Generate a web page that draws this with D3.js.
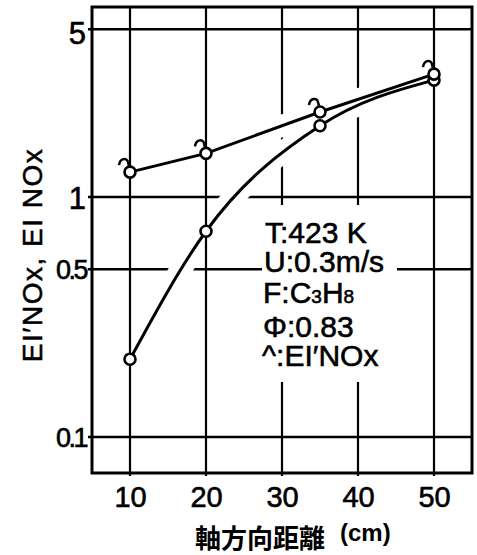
<!DOCTYPE html>
<html>
<head>
<meta charset="utf-8">
<script src="https://cdn.jsdelivr.net/npm/d3@7"></script>
<style>
  body { margin: 0; background: #fff; }
  svg { display: block; }
</style>
</head>
<body>
<div id="chart"></div>
<script>
// values
const distance = [10, 20, 35, 50];
const eiNOxPrime = [1.27, 1.52, 2.26, 3.25];
const eiNOx = [0.211, 0.72, 1.98, 3.07];
const xTicks = [10, 20, 30, 40, 50];
const yTicks = [0.1, 0.5, 1, 5];
const xDomain = [5, 55];
const yDomain = [0.0708, 6.19];

const W = 477, H = 555;
const plotLeft = 92, plotRight = 472, plotTop = 7, plotBottom = 473;

const svg = d3.select("#chart").append("svg")
    .attr("width", W)
    .attr("height", H)
    .style("font-family", "'Liberation Sans', Arial, sans-serif");

svg.append("rect").attr("width", W).attr("height", H).attr("fill", "#fff");

const x = d3.scaleLinear().domain(xDomain).range([plotLeft, plotRight]);
const y = d3.scaleLog().domain(yDomain).range([plotBottom, plotTop]);

const primed = distance.map((d, i) => ({x: d, y: eiNOxPrime[i]}));
const plain = distance.map((d, i) => ({x: d, y: eiNOx[i]}));

const lineStraight = d3.line().x(d => x(d.x)).y(d => y(d.y));
const lineSmooth = d3.line().x(d => x(d.x)).y(d => y(d.y)).curve(d3.curveMonotoneX);

// horizontal grid + the verticals that have no data on them
const grid = svg.append("g").attr("stroke", "#000").attr("fill", "none");
grid.selectAll(".hgrid").data(yTicks).join("line")
    .attr("class", "hgrid")
    .attr("x1", plotLeft - 4).attr("x2", plotRight)
    .attr("y1", d => y(d)).attr("y2", d => y(d))
    .attr("stroke-width", 2.4);
grid.selectAll(".vgrid").data(xTicks.filter(t => distance.indexOf(t) < 0)).join("line")
    .attr("class", "vgrid")
    .attr("x1", d => x(d)).attr("x2", d => x(d))
    .attr("y1", plotTop).attr("y2", plotBottom + 3)
    .attr("stroke-width", 2.2);

// gridlines stop short of the curves
svg.append("g").selectAll("path").data([primed, plain]).join("path")
    .attr("d", (d, i) => i == 0 ? lineStraight(d) : lineSmooth(d))
    .attr("fill", "none")
    .attr("stroke", "#fff")
    .attr("stroke-width", 22);

const grid2 = svg.append("g").attr("stroke", "#000").attr("fill", "none");
grid2.selectAll("line").data(xTicks.filter(t => distance.indexOf(t) >= 0)).join("line")
    .attr("x1", d => x(d)).attr("x2", d => x(d))
    .attr("y1", plotTop).attr("y2", plotBottom + 3)
    .attr("stroke-width", 2.2);

// note block, blanks the grid behind it
const note = svg.append("g");
note.append("rect")
    .attr("x", 262).attr("y", 205)
    .attr("width", 135).attr("height", 177)
    .attr("fill", "#fff");

svg.append("rect")
    .attr("x", plotLeft).attr("y", plotTop)
    .attr("width", plotRight - plotLeft).attr("height", plotBottom - plotTop)
    .attr("fill", "none")
    .attr("stroke", "#000")
    .attr("stroke-width", 3);

const noteText = note.append("text")
    .attr("font-size", 30)
    .attr("fill", "#000")
    .attr("stroke", "#000")
    .attr("stroke-width", 0.6);
noteText.append("tspan").attr("x", 265).attr("y", 243).text("T:423 K");
noteText.append("tspan").attr("x", 264).attr("y", 272).text("U:0.3m/s");
noteText.append("tspan").attr("x", 263).attr("y", 303).text("F:C");
noteText.append("tspan").attr("font-size", 19).text("3");
noteText.append("tspan").text("H");
noteText.append("tspan").attr("font-size", 19).text("8");
noteText.append("tspan").attr("x", 263).attr("y", 337).text("Φ:0.83");
noteText.append("tspan").attr("x", 262).attr("y", 366).text("^:EI′NOx");

// curves
svg.append("path").datum(primed)
    .attr("d", lineStraight)
    .attr("fill", "none").attr("stroke", "#000").attr("stroke-width", 3);
svg.append("path").datum(plain)
    .attr("d", lineSmooth)
    .attr("fill", "none").attr("stroke", "#000").attr("stroke-width", 3);

svg.append("g").selectAll("circle").data(plain.concat(primed)).join("circle")
    .attr("cx", d => x(d.x)).attr("cy", d => y(d.y))
    .attr("r", 5.5)
    .attr("fill", "#fff").attr("stroke", "#000").attr("stroke-width", 2.6);

// little hooks that mark the EI'NOx points
svg.append("g").selectAll("path").data(primed).join("path")
    .attr("transform", d => "translate(" + x(d.x) + "," + y(d.y) + ")")
    .attr("d", "M-11,-7 C-10,-14 -3,-15 -2,-10 L-1,-6")
    .attr("fill", "none").attr("stroke", "#000").attr("stroke-width", 2.5);

// axes (labels only)
const xAxis = svg.append("g")
    .attr("transform", "translate(0," + plotBottom + ")")
    .call(d3.axisBottom(x).tickValues(xTicks).tickSize(0).tickPadding(13));
xAxis.select(".domain").remove();
xAxis.selectAll("text").attr("font-size", 29).attr("font-family", null).attr("fill", "#000")
    .attr("stroke", "#000").attr("stroke-width", 0.6);

const yAxis = svg.append("g")
    .attr("transform", "translate(" + plotLeft + ",0)")
    .call(d3.axisLeft(y).tickValues(yTicks).tickFormat(d => String(d)).tickSize(0).tickPadding(6));
yAxis.select(".domain").remove();
yAxis.selectAll("text").attr("font-family", null).attr("fill", "#000")
    .attr("font-size", d => d < 1 ? 27 : 31)
    .attr("dy", d => d == 5 ? "0.45em" : "0.36em")
    .attr("stroke", "#000").attr("stroke-width", 0.6)
    .attr("letter-spacing", d => d < 1 ? -2.5 : 0);

svg.append("text")
    .attr("transform", "translate(42,255) rotate(-90)")
    .attr("text-anchor", "middle")
    .attr("font-size", 28)
    .attr("letter-spacing", 1.5)
    .attr("stroke", "#000").attr("stroke-width", 0.5)
    .text("EI′NOx, EI NOx");

svg.append("text")
    .attr("x", 195).attr("y", 548)
    .attr("font-family", "'Noto Sans CJK JP', sans-serif")
    .attr("font-weight", "bold")
    .attr("font-size", 26)
    .text("軸方向距離");
svg.append("text")
    .attr("x", 340).attr("y", 541)
    .attr("font-weight", "bold")
    .attr("font-size", 24)
    .text("(cm)");
</script>
</body>
</html>
